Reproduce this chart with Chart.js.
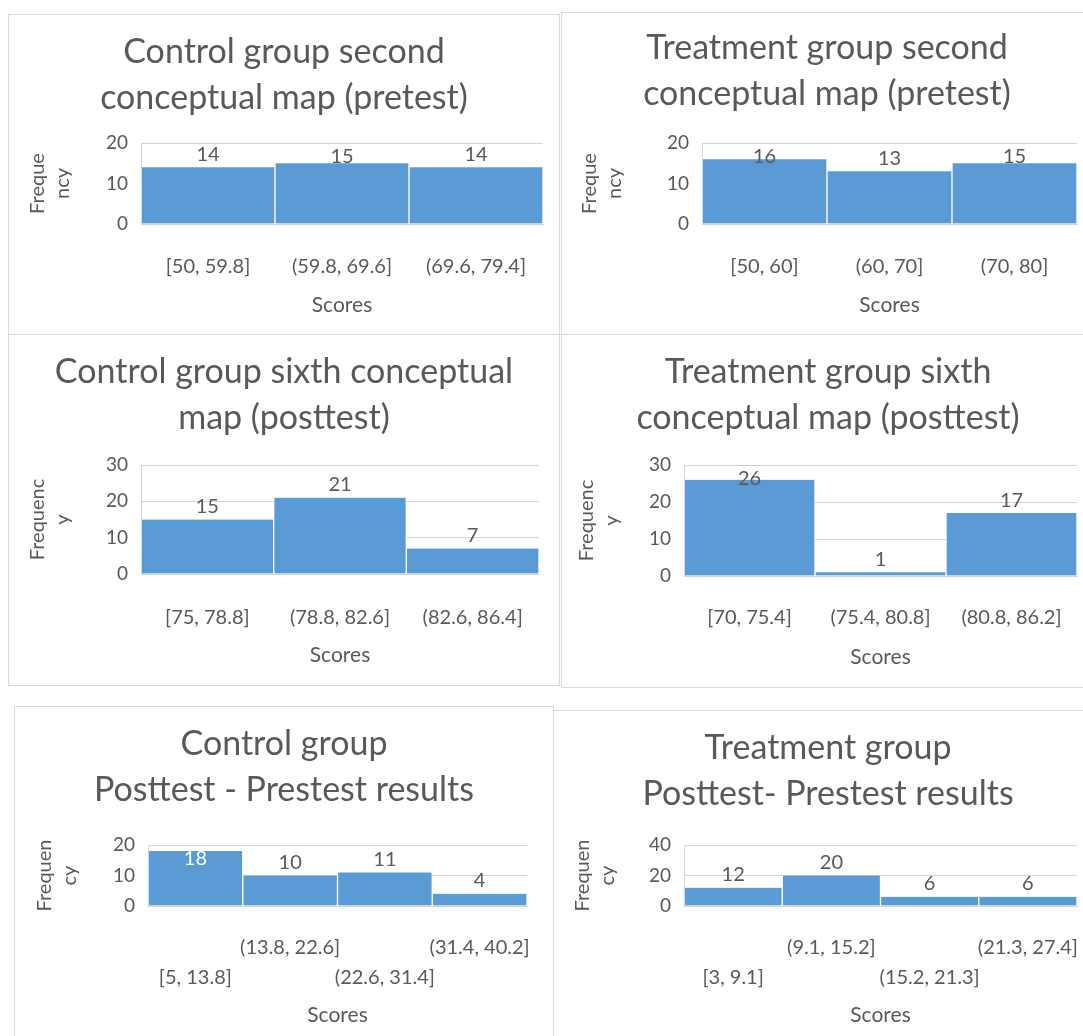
<!DOCTYPE html>
<html>
<head>
<meta charset="utf-8">
<script src="https://cdn.jsdelivr.net/npm/chart.js@4.4.1/dist/chart.umd.min.js"></script>
<style>
  html, body { margin: 0; padding: 0; background: #fff; width: 1083px; height: 1036px; overflow: hidden; position: relative; }
  .panel { position: absolute; border: 1px solid #d9d9d9; background: #fff; }
  .panel canvas { display: block; }
</style>
</head>
<body>
<div class="panel" id="p1"><canvas id="c1"></canvas></div>
<div class="panel" id="p2"><canvas id="c2"></canvas></div>
<div class="panel" id="p3"><canvas id="c3"></canvas></div>
<div class="panel" id="p4"><canvas id="c4"></canvas></div>
<div class="panel" id="p5"><canvas id="c5"></canvas></div>
<div class="panel" id="p6"><canvas id="c6"></canvas></div>
<script>
// ---- Histogram data: score bins and frequencies ----
const ctrlPreTitle = ['Control group second', 'conceptual map (pretest)'];
const ctrlPreBins = ['[50, 59.8]', '(59.8, 69.6]', '(69.6, 79.4]'];
const ctrlPreFreq = [14, 15, 14];

const treatPreTitle = ['Treatment group second', 'conceptual map (pretest)'];
const treatPreBins = ['[50, 60]', '(60, 70]', '(70, 80]'];
const treatPreFreq = [16, 13, 15];

const ctrlPostTitle = ['Control group sixth conceptual', 'map (posttest)'];
const ctrlPostBins = ['[75, 78.8]', '(78.8, 82.6]', '(82.6, 86.4]'];
const ctrlPostFreq = [15, 21, 7];

const treatPostTitle = ['Treatment group sixth', 'conceptual map (posttest)'];
const treatPostBins = ['[70, 75.4]', '(75.4, 80.8]', '(80.8, 86.2]'];
const treatPostFreq = [26, 1, 17];

const ctrlDiffTitle = ['Control group', 'Posttest - Prestest results'];
const ctrlDiffBins = ['[5, 13.8]', '(13.8, 22.6]', '(22.6, 31.4]', '(31.4, 40.2]'];
const ctrlDiffFreq = [18, 10, 11, 4];

const treatDiffTitle = ['Treatment group', 'Posttest- Prestest results'];
const treatDiffBins = ['[3, 9.1]', '(9.1, 15.2]', '(15.2, 21.3]', '(21.3, 27.4]'];
const treatDiffFreq = [12, 20, 6, 6];

// y-axis ranges [max, step]
const ctrlPreAxis = [20, 10];
const treatPreAxis = [20, 10];
const ctrlPostAxis = [30, 10];
const treatPostAxis = [30, 10];
const ctrlDiffAxis = [20, 10];
const treatDiffAxis = [40, 20];

const yTitleShort = ['Freque', 'ncy'];
const yTitleMid = ['Frequenc', 'y'];
const yTitleLong = ['Frequen', 'cy'];
const xTitle = 'Scores';

// ---- Look ----
const FONT = 'Lato, "Open Sans", sans-serif';
const TEXT = '#595959';
const BAR = '#5B9BD5';
const GRID = '#d4d4d4';
Chart.defaults.font.family = FONT;
Chart.defaults.color = TEXT;

// Value labels above each bar (pulled inside the plot when near the top)
const valueLabels = {
  id: 'valueLabels',
  afterDatasetsDraw(chart) {
    const { ctx, chartArea } = chart;
    const meta = chart.getDatasetMeta(0);
    const values = chart.data.datasets[0].data;
    ctx.save();
    ctx.font = '20px ' + FONT;
    ctx.textAlign = 'center';
    ctx.textBaseline = 'middle';
    meta.data.forEach((bar, i) => {
      const top = bar.y;
      let y = top - 13;
      if (y - 10 < chartArea.top) y = chartArea.top + 14;
      ctx.fillStyle = y > top + 5 ? '#ffffff' : TEXT;
      ctx.fillText(String(values[i]), bar.x, y);
    });
    ctx.restore();
  }
};

// Panel geometry: box on the page, plot rectangle inside the canvas,
// title first-line centre, tick-label gap, distance of axis title from bottom
function makeHistogram(n, cfg) {
  const panel = document.getElementById('p' + n);
  panel.style.left = cfg.box[0] + 'px';
  panel.style.top = cfg.box[1] + 'px';
  panel.style.width = cfg.box[2] + 'px';
  panel.style.height = cfg.box[3] + 'px';
  const W = cfg.box[2], H = cfg.box[3];
  const canvas = document.getElementById('c' + n);
  canvas.width = W; canvas.height = H;
  canvas.style.width = W + 'px'; canvas.style.height = H + 'px';

  const [L, T, R, B] = cfg.plot;
  const titleLH = 46;
  const titleSize = 34;
  const titlePadTop = cfg.titleY - titleLH / 2;
  const titlePadBottom = T - titlePadTop - 2 * titleLH;
  const tickLH = cfg.stagger ? 30 : 24;
  const tickPad = cfg.labelGap - tickLH / 2;
  const xTitleLH = 24;
  const xTitlePadBottom = cfg.scoresFromBottom - xTitleLH / 2;

  const labels = cfg.stagger
    ? cfg.bins.map((b, i) => (i % 2 === 0 ? ['', b] : [b, '']))
    : cfg.bins;

  return new Chart(canvas, {
    type: 'bar',
    data: {
      labels: labels,
      datasets: [{
        data: cfg.freq,
        backgroundColor: BAR,
        borderColor: '#ffffff',
        borderWidth: { left: 1, right: 1, top: 0, bottom: 0 },
        borderSkipped: false,
        barPercentage: 1,
        categoryPercentage: 1
      }]
    },
    options: {
      responsive: false,
      animation: false,
      layout: { padding: 0 },
      plugins: {
        legend: { display: false },
        tooltip: { enabled: false },
        title: {
          display: true,
          text: cfg.title,
          color: TEXT,
          font: { size: titleSize, weight: 'normal', lineHeight: titleLH / titleSize },
          padding: { top: titlePadTop, bottom: titlePadBottom }
        }
      },
      scales: {
        x: {
          grid: { display: false },
          border: { display: true, color: GRID },
          ticks: {
            color: TEXT,
            font: { size: 20, lineHeight: tickLH / 20 },
            padding: tickPad,
            maxRotation: 0,
            minRotation: 0,
            autoSkip: false
          },
          title: {
            display: true,
            text: xTitle,
            color: TEXT,
            font: { size: 21, lineHeight: xTitleLH / 21 },
            padding: { top: 0, bottom: xTitlePadBottom }
          },
          afterFit(scale) { scale.height = H - B; }
        },
        y: {
          min: 0,
          max: cfg.axis[0],
          ticks: {
            stepSize: cfg.axis[1],
            color: TEXT,
            font: { size: 19 },
            padding: 13
          },
          grid: { color: GRID, drawTicks: false, lineWidth: 1 },
          border: { display: true, color: GRID },
          title: {
            display: true,
            text: cfg.yTitle,
            color: TEXT,
            font: { size: 20, lineHeight: 25 / 20 },
            padding: { top: cfg.yTitleX - 12.5, bottom: 0 }
          },
          afterFit(scale) { scale.width = L; }
        },
        // empty right-hand margin so the plot stops short of the panel edge
        margin: {
          type: 'linear',
          position: 'right',
          display: true,
          min: 0,
          max: cfg.axis[0],
          grid: { display: false, drawTicks: false },
          border: { display: false },
          ticks: { display: false },
          afterFit(scale) { scale.width = W - R; }
        }
      }
    },
    plugins: [valueLabels]
  });
}

makeHistogram(1, { box: [8, 14, 550, 320], plot: [132, 128, 534, 209], titleY: 37,
  labelGap: 35, scoresFromBottom: 30, yTitleX: 29,
  title: ctrlPreTitle, bins: ctrlPreBins, freq: ctrlPreFreq, axis: ctrlPreAxis, yTitle: yTitleShort });

makeHistogram(2, { box: [561, 12, 530, 322], plot: [140, 130, 515, 211], titleY: 35,
  labelGap: 35, scoresFromBottom: 30, yTitleX: 28,
  title: treatPreTitle, bins: treatPreBins, freq: treatPreFreq, axis: treatPreAxis, yTitle: yTitleShort });

makeHistogram(3, { box: [8, 334, 550, 350], plot: [132, 130, 530, 239], titleY: 37,
  labelGap: 36, scoresFromBottom: 30, yTitleX: 29,
  title: ctrlPostTitle, bins: ctrlPostBins, freq: ctrlPostFreq, axis: ctrlPostAxis, yTitle: yTitleMid });

makeHistogram(4, { box: [561, 334, 532, 352], plot: [122, 130, 515, 241], titleY: 37,
  labelGap: 34, scoresFromBottom: 30, yTitleX: 25,
  title: treatPostTitle, bins: treatPostBins, freq: treatPostFreq, axis: treatPostAxis, yTitle: yTitleMid });

makeHistogram(5, { box: [14, 706, 538, 340], plot: [133, 138, 512, 199], titleY: 37,
  labelGap: 34, scoresFromBottom: 32, yTitleX: 30, stagger: true,
  title: ctrlDiffTitle, bins: ctrlDiffBins, freq: ctrlDiffFreq, axis: ctrlDiffAxis, yTitle: yTitleLong });

makeHistogram(6, { box: [553, 710, 548, 340], plot: [130, 134, 523, 195], titleY: 37,
  labelGap: 34, scoresFromBottom: 36, yTitleX: 29, stagger: true,
  title: treatDiffTitle, bins: treatDiffBins, freq: treatDiffFreq, axis: treatDiffAxis, yTitle: yTitleLong });
</script>
</body>
</html>
